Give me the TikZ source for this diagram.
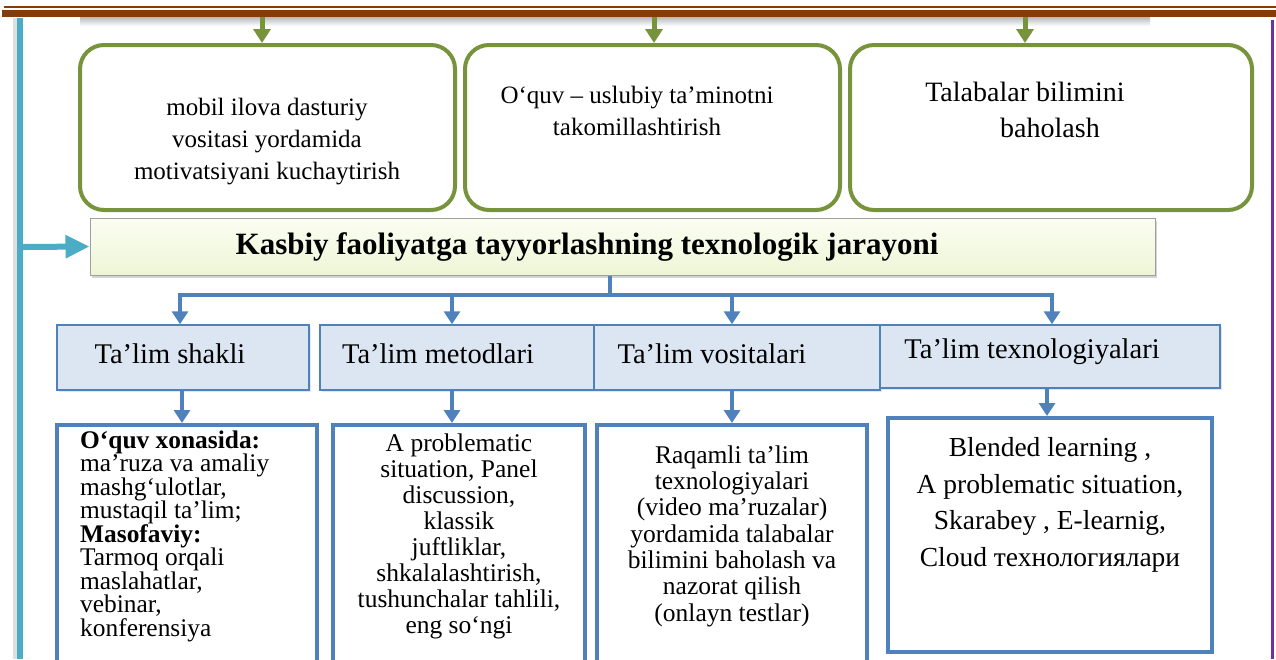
\documentclass[tikz,border=0pt]{standalone}
\usepackage{fontspec}
\setmainfont{Liberation Serif}
\usetikzlibrary{arrows.meta,shadows}
\definecolor{brownbar}{HTML}{843C0C}
\definecolor{greenb}{HTML}{77933C}
\definecolor{blueb}{HTML}{4F81BD}
\definecolor{bluefill}{HTML}{DCE6F2}
\definecolor{cyanb}{HTML}{4BACC6}
\definecolor{purpleb}{HTML}{7030A0}
\begin{document}
\begin{tikzpicture}[x=1pt,y=-1pt,
  greenbox/.style={draw=greenb,line width=4pt,rounded corners=24pt,fill=white},
  greentext/.style={font=\fontsize{25}{32}\selectfont,align=center,inner sep=0pt},
  mainbar/.style={draw=gray!75,line width=1pt,top color={rgb,255:red,251;green,253;blue,242},bottom color={rgb,255:red,238;green,246;blue,214},
     drop shadow={shadow xshift=2pt,shadow yshift=-3pt,opacity=0.35}},
  midbox/.style={draw=blueb,line width=1.5pt,fill=bluefill,drop shadow={shadow xshift=1.5pt,shadow yshift=-2pt,opacity=0.2}},
  midtext/.style={font=\fontsize{28.5}{30}\selectfont,inner sep=0pt},
  lowbox/.style={draw=blueb,line width=4pt,fill=white},
  greenarrow/.style={draw=greenb,line width=5pt,-{Triangle[width=17pt,length=14pt]}},
  bluearrow/.style={draw=blueb,line width=4pt,-{Triangle[width=16pt,length=13pt]}},
  blueline/.style={draw=blueb,line width=4pt},
]
\useasboundingbox (0,0) rectangle (1276,659);
% frame lines
\fill[brownbar] (4,5.5) rectangle (1276,7.5);
\fill[brownbar] (2,10) rectangle (1276,17);
\shade[top color=gray!55,bottom color=white] (80,17) rectangle (1150,26);
\fill[gray!25] (13,18) rectangle (17,659);
\fill[cyanb] (17,18) rectangle (23,659);
\fill[purpleb] (1271,20) rectangle (1273.5,659);
% green boxes
\node[greenbox,minimum width=375pt,minimum height=165pt] (g1) at (267.5,127.5) {};
\node[greenbox,minimum width=375pt,minimum height=165pt] (g2) at (652.5,127.5) {};
\node[greenbox,minimum width=402pt,minimum height=165pt] (g3) at (1051,127.5) {};
\node[greentext] (g1t) at (267,142) {mobil ilova dasturiy\\vositasi yordamida\\motivatsiyani kuchaytirish};
\node[greentext] (g2t) at (637,111) {O‘quv – uslubiy ta’minotni\\takomillashtirish};
\node[greentext,font=\fontsize{28}{36}\selectfont] (g3t) at (1025,110) {Talabalar bilimini\\\hspace*{50pt}baholash};
\coordinate (a1) at (262,17);
\coordinate (a2) at (654,17);
\coordinate (a3) at (1025,17);
\draw[greenarrow] (a1) -- (a1 |- g1.north);
\draw[greenarrow] (a2) -- (a2 |- g2.north);
\draw[greenarrow] (a3) -- (a3 |- g3.north);
% main bar
\node[mainbar,minimum width=1065pt,minimum height=57pt] (main) at (622.5,246.5) {};
\node[font=\fontsize{31}{34}\selectfont\bfseries,inner sep=0pt] (maint) at (587,247) {Kasbiy faoliyatga tayyorlashning texnologik jarayoni};
\coordinate (cy) at (23,247);
\draw[cyanb,line width=6pt,-{Triangle[width=22pt,length=24pt]}] (cy) -- (main.west);
% middle row
\node[midbox,minimum width=252pt,minimum height=65pt] (sA) at (183,357.5) {};
\node[midbox,minimum width=274pt,minimum height=65pt] (sB) at (457,357.5) {};
\node[midbox,minimum width=286pt,minimum height=65pt] (sC) at (737,357.5) {};
\node[midbox,minimum width=340pt,minimum height=63pt] (sD) at (1050,356.5) {};
\node[midtext] (sAt) at (170,354) {Ta’lim shakli};
\node[midtext] (sBt) at (438,354) {Ta’lim metodlari};
\node[midtext] (sCt) at (712,354) {Ta’lim vositalari};
\node[midtext] (sDt) at (1032,352) {Ta’lim texnologiyalari};
% tree connectors
\coordinate (jc) at (610,295);
\coordinate (jA) at (180,295);
\coordinate (jB) at (452,295);
\coordinate (jC) at (732,295);
\coordinate (jD) at (1052,295);
\draw[blueline] (main.south -| jc) -- (jc);
\draw[blueline,line cap=rect] (jA) -- (jD);
\draw[bluearrow] (jA) -- (jA |- sA.north);
\draw[bluearrow] (jB) -- (jB |- sB.north);
\draw[bluearrow] (jC) -- (jC |- sC.north);
\draw[bluearrow] (jD) -- (jD |- sD.north);
% lower row
\node[lowbox,minimum width=260pt,minimum height=240pt] (tA) at (187,545) {};
\node[lowbox,minimum width=252pt,minimum height=240pt] (tB) at (459,545) {};
\node[lowbox,minimum width=270pt,minimum height=240pt] (tC) at (732,545) {};
\node[lowbox,minimum width=324pt,minimum height=234pt] (tD) at (1050,535) {};
\coordinate (kA) at (182,390);
\coordinate (kB) at (452,390);
\coordinate (kC) at (732,390);
\coordinate (kD) at (1047,388);
\draw[bluearrow] (kA) -- (kA |- tA.north);
\draw[bluearrow] (kB) -- (kB |- tB.north);
\draw[bluearrow] (kC) -- (kC |- tC.north);
\draw[bluearrow] (kD) -- (kD |- tD.north);
\node[font=\fontsize{25.4}{23.5}\selectfont,align=left,inner sep=0pt,anchor=west] (tAt) at (80,536) {\textbf{O‘quv xonasida:}\\ma’ruza va amaliy\\mashg‘ulotlar,\\mustaqil ta’lim;\\\textbf{Masofaviy:}\\Tarmoq orqali\\maslahatlar,\\vebinar,\\konferensiya};
\node[font=\fontsize{25.5}{26.1}\selectfont,align=center,inner sep=0pt] (tBt) at (459,536.5) {A problematic\\situation, Panel\\discussion,\\klassik\\juftliklar,\\shkalalashtirish,\\tushunchalar tahlili,\\eng so‘ngi};
\node[font=\fontsize{25.5}{26.3}\selectfont,align=center,inner sep=0pt] (tCt) at (732,536) {Raqamli ta’lim\\texnologiyalari\\(video ma’ruzalar)\\yordamida talabalar\\bilimini baholash va\\nazorat qilish\\(onlayn testlar)};
\node[font=\fontsize{27.5}{36.7}\selectfont,align=center,inner sep=0pt] (tDt) at (1050,505) {Blended learning ,\\A problematic situation,\\Skarabey , E-learnig,\\Cloud технологиялари};
\end{tikzpicture}
\end{document}
